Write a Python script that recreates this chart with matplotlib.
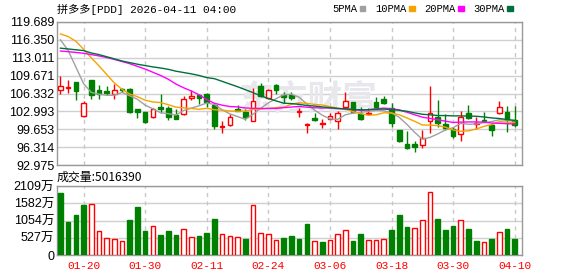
import numpy as np
import matplotlib
matplotlib.use("Agg")
import matplotlib.pyplot as plt
from matplotlib.patches import Rectangle

# ==== 数据 (日K, 2026-01-14 ~ 2026-04-10) ====
dates = ["01-14", "01-15", "01-16", "01-20", "01-21", "01-22", "01-23", "01-26", "01-27", "01-28",
         "01-29", "01-30", "02-02", "02-03", "02-04", "02-05", "02-06", "02-09", "02-10", "02-11",
         "02-12", "02-13", "02-17", "02-18", "02-19", "02-20", "02-23", "02-24", "02-25", "02-26",
         "02-27", "03-02", "03-03", "03-04", "03-05", "03-06", "03-09", "03-10", "03-11", "03-12",
         "03-13", "03-16", "03-17", "03-18", "03-19", "03-20", "03-23", "03-24", "03-25", "03-26",
         "03-27", "03-30", "03-31", "04-01", "04-02", "04-06", "04-07", "04-08", "04-09", "04-10"]
label_dates = ["01-20", "01-30", "02-11", "02-24", "03-06", "03-18", "03-30", "04-10"]

opens = [107.07, 107.30, 108.44, 102.19, 108.81, 106.95, 106.77, 106.21, 107.20, 107.20,
         103.37, 102.87, 102.00, 103.74, 103.60, 102.38, 102.50, 105.53, 106.02, 106.21,
         104.17, 100.02, 100.52, 103.37, 102.93, 101.26, 107.69, 105.53, 107.90, 106.02,
         106.00, 102.80, 100.52, 101.82, 100.65, 101.63, 101.19, 103.74, 104.73, 102.50,
         102.50, 104.73, 105.28, 103.68, 99.53, 96.94, 96.94, 96.69, 101.19, 102.00,
         100.58, 99.78, 98.73, 102.62, 100.65, 101.38, 100.40, 102.62, 102.81, 101.38]
highs = [109.55, 108.81, 108.44, 104.91, 108.90, 107.88, 107.70, 108.06, 107.40, 107.35,
         103.50, 102.90, 103.60, 106.33, 104.00, 103.37, 105.84, 107.07, 106.20, 106.46,
         104.35, 101.20, 102.44, 104.17, 103.37, 107.45, 108.31, 107.26, 108.10, 106.70,
         106.60, 103.55, 100.89, 102.75, 101.63, 102.62, 103.12, 106.58, 104.80, 103.86,
         103.55, 105.59, 105.84, 104.48, 99.60, 99.35, 97.37, 99.53, 107.69, 105.10,
         102.50, 100.02, 103.12, 104.17, 101.88, 102.81, 100.77, 104.91, 103.99, 103.99]
lows = [106.21, 106.46, 105.10, 102.00, 105.34, 105.28, 106.02, 105.28, 106.60, 102.74,
        101.76, 100.90, 101.80, 102.74, 101.38, 101.60, 102.40, 105.10, 104.29, 103.74,
        99.78, 98.91, 100.27, 102.99, 101.38, 101.20, 105.59, 105.22, 106.20, 104.50,
        105.20, 101.88, 99.04, 101.20, 99.84, 101.50, 99.78, 103.37, 102.74, 101.38,
        102.23, 103.37, 104.35, 100.15, 97.18, 96.01, 95.33, 96.08, 98.91, 100.02,
        99.53, 97.99, 97.37, 101.63, 99.65, 101.07, 98.48, 102.50, 99.10, 100.02]
closes = [107.82, 107.50, 106.83, 104.48, 106.02, 106.21, 106.46, 106.95, 107.00, 102.93,
          102.87, 101.07, 103.49, 103.37, 102.00, 101.63, 105.22, 105.78, 105.53, 104.66,
          100.27, 100.27, 101.88, 103.06, 102.00, 104.97, 105.90, 106.95, 107.00, 105.65,
          105.50, 103.12, 100.65, 101.32, 100.83, 102.07, 102.62, 104.91, 102.93, 101.63,
          102.75, 103.74, 104.48, 100.89, 97.55, 96.20, 96.30, 97.99, 102.62, 100.77,
          99.90, 98.48, 102.00, 101.82, 100.89, 101.19, 99.53, 103.74, 101.38, 100.40]

# 成交量 (万股), 颜色按与前一日收盘比较 (1=涨 红, 0=跌 绿)
volumes = [1896, 1014, 1227, 1531, 1562, 730, 517, 477, 426, 1065,
           1470, 730, 882, 608, 730, 608, 791, 548, 578, 679,
           1095, 639, 578, 548, 487, 1521, 669, 639, 456, 517,
           578, 487, 943, 426, 395, 456, 639, 750, 426, 639,
           456, 456, 487, 760, 1217, 852, 811, 1055, 1937, 1095,
           760, 882, 1085, 791, 426, 385, 487, 700, 791, 501.639]
vol_up = [0, 0, 0, 0, 1, 1, 1, 1, 1, 0,
          0, 0, 1, 0, 0, 0, 1, 1, 0, 0,
          0, 1, 1, 1, 0, 1, 1, 1, 1, 0,
          0, 0, 0, 1, 0, 1, 1, 1, 0, 0,
          1, 1, 1, 0, 0, 0, 1, 1, 1, 0,
          0, 0, 1, 0, 0, 1, 0, 1, 0, 0]

ma5 = [116.35, 114.37, 111.28, 108.19, 106.53, 106.21, 106.00, 106.02, 106.53, 105.91,
       105.24, 104.16, 103.47, 102.75, 102.56, 102.31, 103.14, 103.60, 104.03, 104.56,
       104.29, 103.30, 102.52, 102.03, 101.50, 102.44, 103.56, 104.58, 105.36, 106.09,
       106.20, 105.64, 104.38, 103.25, 102.28, 101.60, 101.50, 102.35, 102.67, 102.83,
       102.97, 103.19, 103.11, 102.70, 101.88, 100.57, 99.08, 97.79, 98.13, 98.78,
       99.52, 99.95, 100.75, 100.59, 100.62, 100.88, 101.09, 101.43, 101.35, 101.25]
ma10 = [117.46, 116.97, 116.10, 114.60, 113.00, 111.50, 109.90, 108.30, 107.10, 106.22,
        105.73, 105.08, 104.75, 104.64, 104.24, 103.78, 103.65, 103.54, 103.39, 103.56,
        103.30, 103.22, 103.06, 103.03, 103.03, 103.36, 103.43, 103.55, 103.69, 103.79,
        104.31, 104.60, 104.48, 104.30, 104.18, 103.89, 103.57, 103.36, 102.96, 102.56,
        102.28, 102.35, 102.73, 102.69, 102.36, 101.77, 101.14, 100.45, 100.42, 100.33,
        100.04, 99.52, 99.27, 99.36, 99.70, 100.19, 100.52, 101.09, 100.97, 100.93]
ma20 = [114.27, 114.15, 114.00, 113.85, 113.60, 113.35, 113.05, 112.70, 112.30, 111.90,
        111.40, 110.90, 110.30, 109.70, 109.00, 108.10, 107.40, 106.80, 106.10, 105.20,
        104.51, 104.15, 103.90, 103.83, 103.63, 103.57, 103.54, 103.54, 103.54, 103.68,
        103.81, 103.91, 103.77, 103.67, 103.61, 103.63, 103.50, 103.46, 103.33, 103.17,
        103.30, 103.47, 103.60, 103.49, 103.27, 102.83, 102.36, 101.91, 101.68, 101.44,
        101.16, 100.93, 100.99, 101.02, 101.02, 100.98, 100.82, 100.77, 100.69, 100.63]
ma30 = [114.80, 114.65, 114.50, 114.35, 113.90, 113.60, 113.20, 112.80, 112.40, 112.10,
        111.80, 111.55, 111.30, 111.10, 110.85, 110.50, 110.25, 110.00, 109.70, 109.30,
        109.10, 108.60, 108.10, 107.60, 107.05, 106.50, 105.90, 105.40, 104.95, 104.52,
        104.45, 104.30, 104.09, 103.99, 103.82, 103.68, 103.55, 103.48, 103.35, 103.30,
        103.30, 103.39, 103.42, 103.34, 103.19, 103.01, 102.71, 102.45, 102.35, 102.22,
        102.21, 102.15, 102.15, 102.11, 102.08, 101.95, 101.77, 101.66, 101.48, 101.30]

price_ticks = [92.975, 96.314, 99.653, 102.993, 106.332, 109.671, 113.011, 116.350, 119.689]
vol_ticks = [0, 527, 1054, 1582, 2109]
vol_tick_labels = ["0", "527万", "1054万", "1582万", "2109万"]
last_volume = 5016390

ma_names = ["5PMA", "10PMA", "20PMA", "30PMA"]
ma_colors = ["#a0a0a0", "#f5a300", "#ff00ff", "#006f3c"]

RED = "#ff0000"
GREEN = "#008000"
FRAME = "#999999"
GRID = "#d0d0d0"

# ==== 画布 ====
W, H = 578, 276
fig = plt.figure(figsize=(W / 100, H / 100), dpi=100)
fig.patch.set_facecolor("white")
ax = fig.add_axes([57 / W, 1 - 165 / H, 465 / W, 143 / H])
axv = fig.add_axes([57 / W, 1 - 255 / H, 465 / W, 69 / H])

x = np.arange(len(dates))
o = np.array(opens)
h = np.array(highs)
l = np.array(lows)
c = np.array(closes)
up = c >= o
col = np.where(up, RED, GREEN)
label_idx = [dates.index(d) for d in label_dates]

# K线
ax.vlines(x, l, h, colors=col, lw=1, zorder=3)
body_h = np.maximum(np.abs(c - o), 0.08)
ax.bar(x, body_h, bottom=np.minimum(o, c), width=0.6,
       color=np.where(up, "white", GREEN), edgecolor=col, linewidth=1, zorder=4)

# 均线
for vals, color in zip([ma5, ma10, ma20, ma30], ma_colors):
    ax.plot(x, vals, color=color, lw=1, zorder=5)

# 成交量
vup = np.array(vol_up) == 1
vcol = np.where(vup, RED, GREEN)
axv.bar(x, volumes, width=0.6, color=np.where(vup, "white", GREEN),
        edgecolor=vcol, linewidth=1, zorder=3)

xlim = (-0.45, len(dates) - 0.05)
for a in (ax, axv):
    a.set_xlim(*xlim)
    for s in a.spines.values():
        s.set_color(FRAME)
        s.set_linewidth(1)
    a.set_axisbelow(True)
    a.yaxis.grid(True, color=GRID, lw=1)
    for i in label_idx:
        a.axvline(i, color="#c8c8c8", lw=1, ls=(0, (3, 3)), zorder=0.6)

ax.set_ylim(price_ticks[0], price_ticks[-1])
ax.set_yticks(price_ticks)
ax.set_yticklabels([f"{v:.3f}" for v in price_ticks])
ax.set_xticks([])
ax.tick_params(axis="y", length=0, pad=2, labelsize=9, labelcolor="black")
for t in ax.get_yticklabels():
    t.set_family("Liberation Sans")

axv.set_ylim(0, vol_ticks[-1])
axv.set_yticks(vol_ticks)
axv.set_yticklabels(vol_tick_labels)
axv.tick_params(axis="y", length=0, pad=2, labelsize=9, labelcolor="black")
for t in axv.get_yticklabels():
    t.set_family(["Liberation Sans", "Noto Sans CJK SC"])
axv.set_xticks(label_idx)
axv.set_xticklabels(label_dates)
axv.tick_params(axis="x", length=0, pad=4, labelsize=8, labelcolor=RED)
for t in axv.get_xticklabels():
    t.set_family("Liberation Mono")

# 水印
ax.text(0.54, 0.46, "东方财富", transform=ax.transAxes, ha="center", va="center",
        fontsize=25, color="#e8e8ec", family="Noto Sans CJK SC", weight="bold", zorder=1)

# 标题与图例
fig.text(57 / W, 1 - 9 / H, "拼多多[PDD] 2026-04-11 04:00", ha="left", va="center",
         fontsize=8, family=["Liberation Mono", "Noto Sans CJK SC"], color="black")
fig.text(57 / W, 1 - 177 / H, f"成交量:{last_volume}", ha="left", va="center",
         fontsize=8.6, family=["Noto Sans CJK SC"], color="black")

handles = [Rectangle((0, 0), 1, 1, color=cc) for cc in ma_colors]
leg = fig.legend(handles, ma_names, loc="center right", bbox_to_anchor=(513 / W, 1 - 9 / H),
                 ncol=4, frameon=False, markerfirst=False, handlelength=0.55, handleheight=0.35,
                 handletextpad=0.25, columnspacing=0.9, borderpad=0, borderaxespad=0,
                 prop={"family": "Liberation Mono", "size": 7.6})

fig.savefig("out.png", dpi=100)
